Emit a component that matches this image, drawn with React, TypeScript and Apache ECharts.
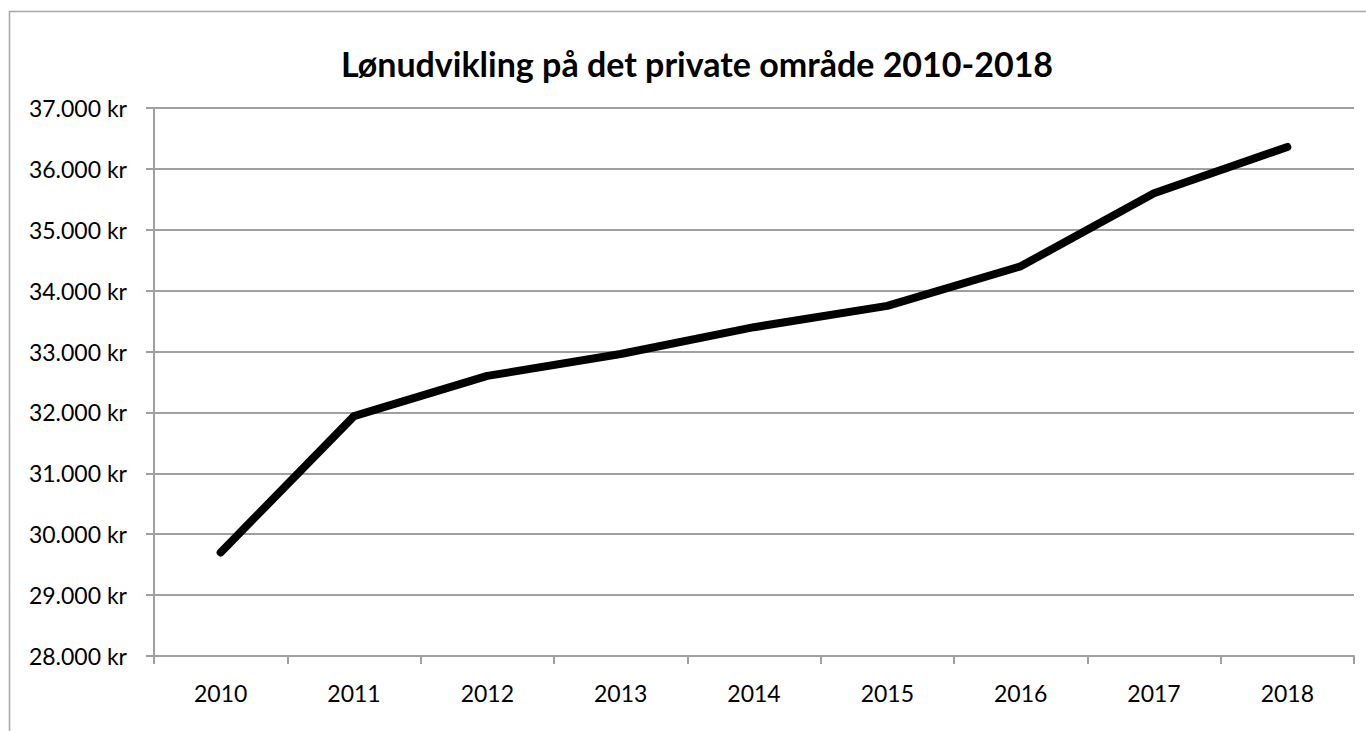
import React, { useEffect, useRef } from "react";
import * as echarts from "echarts";

const title = "Lønudvikling på det private område 2010-2018";
const years = ["2010", "2011", "2012", "2013", "2014", "2015", "2016", "2017", "2018"];
const wages = [29700, 31940, 32600, 32960, 33400, 33750, 34400, 35600, 36360];
const yMin = 28000;
const yMax = 37000;
const yStep = 1000;

const fmt = (v: number) => {
  const s = Math.round(v).toString();
  return s.replace(/\B(?=(\d{3})+(?!\d))/g, ".") + " kr";
};

export default function App() {
  const ref = useRef<HTMLDivElement>(null);
  useEffect(() => {
    document.body.style.margin = "0";
    const chart = echarts.init(ref.current!, null, { renderer: "svg" });
    const font = "Lato, 'Open Sans', sans-serif";
    chart.setOption({
      animation: false,
      backgroundColor: "#ffffff",
      graphic: [
        {
          type: "rect",
          shape: { x: 9.5, y: 11.5, width: 1400, height: 800 },
          style: { fill: "none", stroke: "#a6a6a6", lineWidth: 1.5 },
          silent: true,
          z: 0,
        },
      ],
      title: {
        text: title,
        left: 692,
        textAlign: "center",
        top: 41,
        textStyle: { fontFamily: font, fontSize: 34, fontWeight: "bold", color: "#000" },
      },
      grid: { left: 154, right: 12, top: 108, bottom: 75, containLabel: false },
      xAxis: {
        type: "category",
        data: years,
        boundaryGap: true,
        axisLine: { lineStyle: { color: "#a0a0a0", width: 2 } },
        axisTick: { show: true, length: 8, lineStyle: { color: "#a0a0a0", width: 2 } },
        axisLabel: { margin: 25, fontFamily: font, fontSize: 23, color: "#000" },
        splitLine: { show: false },
      },
      yAxis: {
        type: "value",
        min: yMin,
        max: yMax,
        interval: yStep,
        axisLine: { show: true, lineStyle: { color: "#a0a0a0", width: 2 } },
        axisTick: { show: true, length: 8, lineStyle: { color: "#a0a0a0", width: 2 } },
        axisLabel: { margin: 27, fontFamily: font, fontSize: 23, color: "#000", formatter: fmt },
        splitLine: { show: true, lineStyle: { color: "#a0a0a0", width: 2 } },
      },
      series: [
        {
          type: "line",
          data: wages,
          symbol: "none",
          lineStyle: { color: "#000", width: 8, cap: "round", join: "round" },
        },
      ],
    });
    return () => chart.dispose();
  }, []);
  return <div ref={ref} style={{ width: 1366, height: 731 }} />;
}
